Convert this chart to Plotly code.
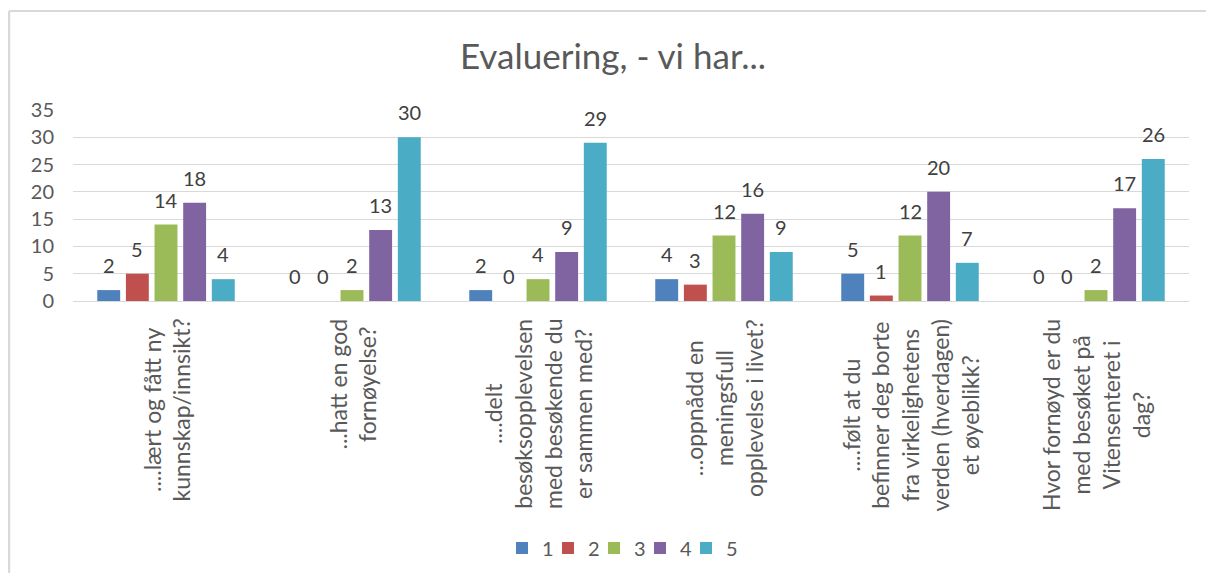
import plotly.graph_objects as go

categories = [
    "....lært og fått ny<br>kunnskap/innsikt?",
    "...hatt en god<br>fornøyelse?",
    "....delt<br>besøksopplevelsen<br>med besøkende du<br>er sammen med?",
    "...oppnådd en<br>meningsfull<br>opplevelse i livet?",
    "....følt at du<br>befinner deg borte<br>fra virkelighetens<br>verden (hverdagen)<br>et øyeblikk?",
    "Hvor fornøyd er du<br>med besøket på<br>Vitensenteret i<br>dag?",
]
series_names = ["1", "2", "3", "4", "5"]
s1 = [2, 0, 2, 4, 5, 0]
s2 = [5, 0, 0, 3, 1, 0]
s3 = [14, 2, 4, 12, 12, 2]
s4 = [18, 13, 9, 16, 20, 17]
s5 = [4, 30, 29, 9, 7, 26]
series_values = [s1, s2, s3, s4, s5]
colors = ["#4F81BD", "#C0504D", "#9BBB59", "#8064A2", "#4BACC6"]
y_ticks = [0, 5, 10, 15, 20, 25, 30, 35]

FONT = "Lato"
BARGAP = 0.23
x_pos = list(range(len(categories)))
n_series = len(series_names)
group_w = 1 - BARGAP
slot = group_w / n_series

fig = go.Figure()
for j, (name, vals, col) in enumerate(zip(series_names, series_values, colors)):
    fig.add_trace(go.Bar(
        x=x_pos, y=vals, name=name,
        marker=dict(color=col, line=dict(width=0)),
        cliponaxis=False,
    ))
    off = -group_w / 2 + (j + 0.5) * slot
    for xi, v in zip(x_pos, vals):
        fig.add_annotation(
            x=xi + off, y=v, xref="x", yref="y", text=str(v), showarrow=False,
            xanchor="center", yanchor="bottom", yshift=11,
            font=dict(family=FONT, size=20, color="#404040"),
        )

# invisible spacer (scatter, so it does not take a bar slot) so the last legend entry is not clipped
fig.add_trace(go.Scatter(x=[None], y=[None], name=" ", mode="markers",
                         marker=dict(color="rgba(0,0,0,0)", line=dict(width=0)),
                         showlegend=True, hoverinfo="skip"))

for xi, label in zip(x_pos, categories):
    fig.add_annotation(
        x=xi, y=0, xref="x", yref="y", text=label, showarrow=False,
        textangle=-90, align="center", xanchor="center", yanchor="top",
        yshift=-16, font=dict(family=FONT, size=23, color="#595959"),
    )

# page body has an 8px margin, so the figure is offset by 8px
W, H = 1198, 565
L, R, T, B = 65, 17, 102, 272
pw, ph = W - L - R, H - T - B
# outer chart border (top and left edges; right/bottom lie outside the view)
bx0 = (1 - L) / pw
by1 = (T + ph - 3) / ph
fig.add_shape(type="line", xref="paper", yref="paper",
              x0=bx0, x1=(W + 20 - L) / pw, y0=by1, y1=by1,
              line=dict(color="#D9D9D9", width=2), layer="below")
fig.add_shape(type="line", xref="paper", yref="paper",
              x0=bx0, x1=bx0, y0=by1, y1=-(H + 20 - T - ph) / ph,
              line=dict(color="#D9D9D9", width=2.5), layer="below")

fig.update_layout(
    width=W, height=H,
    margin=dict(l=L, r=R, t=T, b=B, autoexpand=False),
    paper_bgcolor="white", plot_bgcolor="white",
    title=dict(text="Evaluering, - vi har...", x=0.5 + 6 / W, xanchor="center",
               y=1 - 49 / H, yanchor="middle",
               font=dict(family=FONT, size=35, color="#595959")),
    barmode="group", bargap=BARGAP, bargroupgap=0.2,
    xaxis=dict(range=[-0.5, len(categories) - 0.5], showticklabels=False, showgrid=False,
               showline=True, linecolor="#D9D9D9", linewidth=1, ticks="", zeroline=False),
    yaxis=dict(range=[0, 35], tickvals=y_ticks, showgrid=True, gridcolor="#D9D9D9",
               gridwidth=1, zeroline=False, showline=False,
               tickfont=dict(family=FONT, size=20, color="#595959"),
               ticklabelstandoff=18),
    legend=dict(orientation="h", x=0.5 + 9 / pw, xanchor="center",
                yref="container", y=(H - 540) / H, yanchor="middle",
                font=dict(family=FONT, size=20, color="#595959"),
                itemwidth=30, traceorder="normal",
                entrywidth=1, entrywidthmode="pixels"),
    font=dict(family=FONT),
    hovermode=False,
)

fig.write_html("out.html")
